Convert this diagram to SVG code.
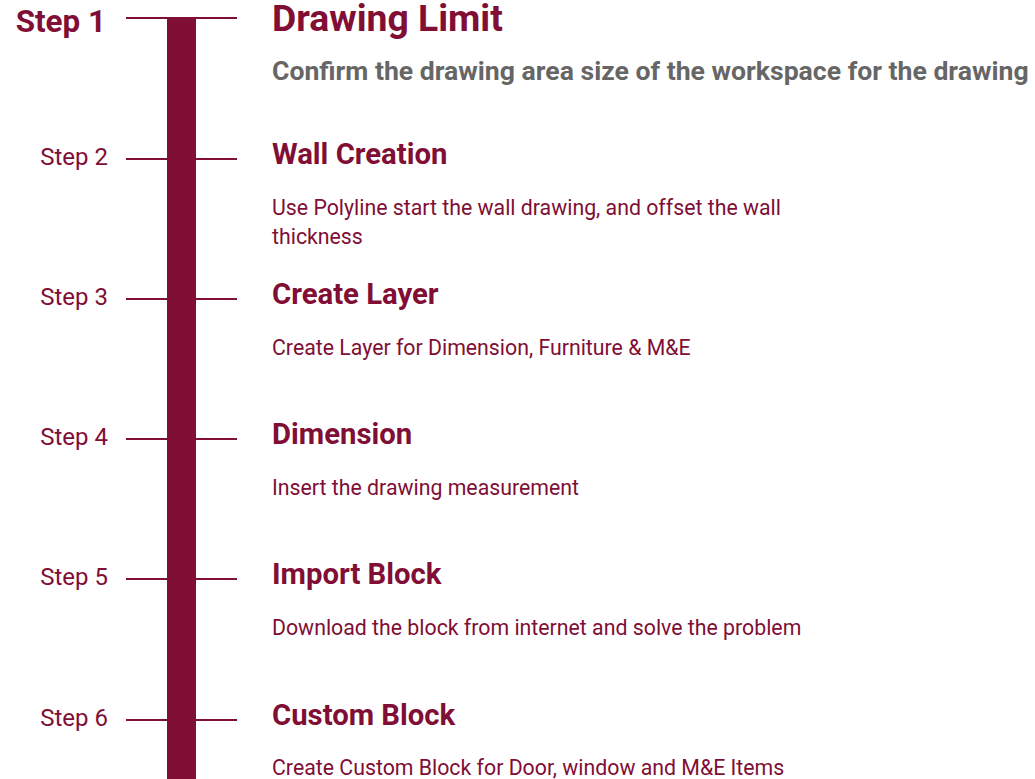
<svg xmlns="http://www.w3.org/2000/svg" width="1035" height="779" viewBox="0 0 1035 779">
<style>
text{font-family:Roboto,"Liberation Sans",sans-serif;fill:#800E35}
.step{font-size:24px;text-anchor:end}
.step1{font-size:31.4px;font-weight:bold;text-anchor:end}
.title{font-size:29.3px;font-weight:bold}
.title1{font-size:37.3px;font-weight:bold}
.sub{font-size:26.6px;font-weight:bold;fill:#666666}
.desc{font-size:21.3px}
.tick{stroke:#800E35;stroke-width:2}
</style>
<rect width="1035" height="779" fill="#ffffff"/>
<g id="connectors">
<rect x="167" y="19" width="29" height="760" fill="#800E35"/>
<line class="tick" x1="126" y1="18" x2="237" y2="18"/>
<line class="tick" x1="126" y1="159" x2="237" y2="159"/>
<line class="tick" x1="126" y1="299" x2="237" y2="299"/>
<line class="tick" x1="126" y1="439" x2="237" y2="439"/>
<line class="tick" x1="126" y1="579" x2="237" y2="579"/>
<line class="tick" x1="126" y1="720" x2="237" y2="720"/>
</g>
<g id="step1">
<text class="step1" x="106" y="32">Step 1</text>
<text class="title1" x="272" y="31">Drawing Limit</text>
<text class="sub" x="272" y="80">Confirm the drawing area size of the workspace for the drawing</text>
</g>
<g id="step2">
<text class="step" x="108" y="165">Step 2</text>
<text class="title" x="272" y="164">Wall Creation</text>
<text class="desc" x="272" y="215">Use Polyline start the wall drawing, and offset the wall</text>
<text class="desc" x="272" y="244">thickness</text>
</g>
<g id="step3">
<text class="step" x="108" y="305">Step 3</text>
<text class="title" x="272" y="304">Create Layer</text>
<text class="desc" x="272" y="355">Create Layer for Dimension, Furniture &amp; M&amp;E</text>
</g>
<g id="step4">
<text class="step" x="108" y="445">Step 4</text>
<text class="title" x="272" y="444">Dimension</text>
<text class="desc" x="272" y="495">Insert the drawing measurement</text>
</g>
<g id="step5">
<text class="step" x="108" y="585">Step 5</text>
<text class="title" x="272" y="584">Import Block</text>
<text class="desc" x="272" y="635">Download the block from internet and solve the problem</text>
</g>
<g id="step6">
<text class="step" x="108" y="726">Step 6</text>
<text class="title" x="272" y="725">Custom Block</text>
<text class="desc" x="272" y="775">Create Custom Block for Door, window and M&amp;E Items</text>
</g>
</svg>
